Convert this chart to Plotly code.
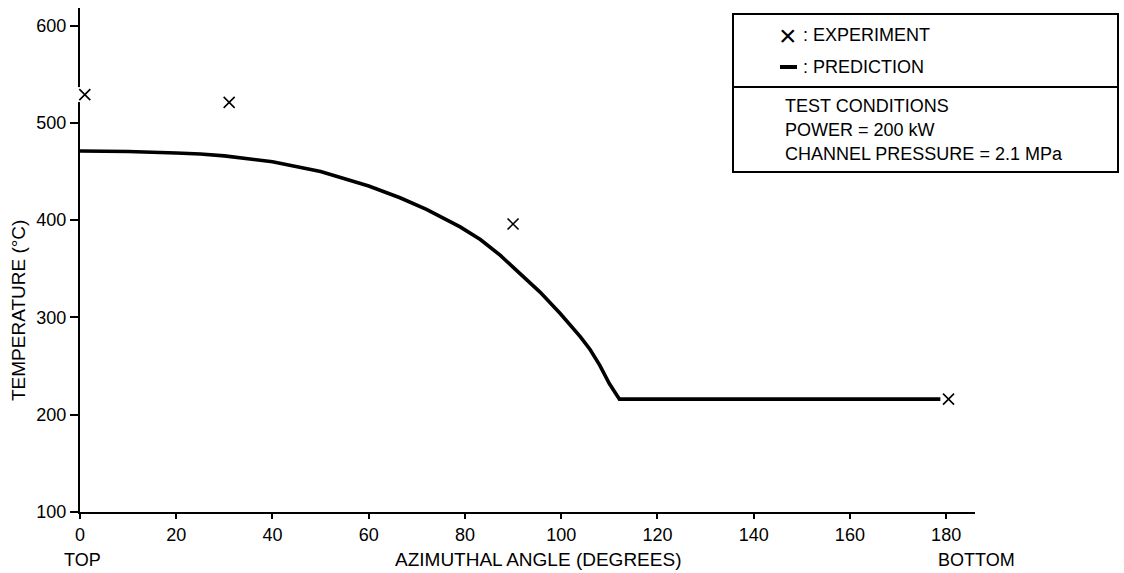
import plotly.graph_objects as go

# Measured wall temperatures around the channel (azimuth in degrees, 0 = top)
exp_angle = [1, 31, 90, 180.5]
exp_temp = [529, 521, 396, 216]

# Predicted temperature profile
pred_angle = [0, 10, 20, 25, 30, 40, 50, 60, 66.5, 72, 79, 83.2, 87.3, 91.5, 95.6,
              99.8, 104, 106, 108, 110, 112.1, 140, 178.8]
pred_temp = [471, 470.5, 469, 468, 466, 460, 450, 435, 423, 411, 393, 380, 364, 345, 326,
             304, 280, 267, 251, 232, 216, 216, 216]

x_ticks = [0, 20, 40, 60, 80, 100, 120, 140, 160, 180]
y_ticks = [100, 200, 300, 400, 500, 600]

FONT = "Liberation Sans, Arial, sans-serif"

# plot-area geometry in pixels
L, R, T, B = 80, 975, 8, 512
W, H = R - L, B - T


def px(xp):
    return (xp - L) / W


def py(yp):
    return (B - yp) / H


fig = go.Figure()

fig.add_trace(go.Scatter(
    x=pred_angle, y=pred_temp, mode="lines",
    line=dict(color="black", width=3.6),
    cliponaxis=False, showlegend=False, hoverinfo="skip"))

# white pad under each cross so the axis line breaks around it
fig.add_trace(go.Scatter(
    x=exp_angle, y=exp_temp, mode="markers",
    marker=dict(symbol="square", size=15, color="white", line=dict(width=0)),
    cliponaxis=False, showlegend=False, hoverinfo="skip"))

fig.add_trace(go.Scatter(
    x=exp_angle, y=exp_temp, mode="markers",
    marker=dict(symbol="x-thin", size=11, color="black",
                line=dict(color="black", width=1.6)),
    cliponaxis=False, showlegend=False))

fig.update_xaxes(
    range=[0, 186], tickvals=x_ticks, ticktext=[str(v) for v in x_ticks],
    showline=True, linecolor="black", linewidth=2,
    ticks="outside", ticklen=5, tickwidth=1.5, tickcolor="black",
    showgrid=False, zeroline=False, layer="below traces",
    tickfont=dict(family=FONT, size=18, color="black"))

fig.update_yaxes(
    range=[100, 618], tickvals=y_ticks, ticktext=[str(v) for v in y_ticks],
    showline=True, linecolor="black", linewidth=2,
    ticks="outside", ticklen=8, tickwidth=1.5, tickcolor="black",
    showgrid=False, zeroline=False, layer="below traces",
    tickfont=dict(family=FONT, size=18, color="black"))

annotations = [
    dict(text="TOP", x=px(82), y=py(560), font_size=18),
    dict(text="AZIMUTHAL ANGLE (DEGREES)", x=px(538), y=py(559), font_size=19),
    dict(text="BOTTOM", x=px(976), y=py(560), font_size=18),
    dict(text="TEMPERATURE (°C)", x=px(18), y=py(311), font_size=19, textangle=-90),
    dict(text="×", x=px(788), y=py(35), font_size=30),
    dict(text=": EXPERIMENT", x=px(801), y=py(35), xanchor="left", font_size=18),
    dict(text=": PREDICTION", x=px(801), y=py(67), xanchor="left", font_size=18),
    dict(text="TEST CONDITIONS", x=px(783), y=py(106), xanchor="left", font_size=18),
    dict(text="POWER = 200 kW", x=px(783), y=py(130), xanchor="left", font_size=18),
    dict(text="CHANNEL PRESSURE = 2.1 MPa", x=px(783), y=py(154), xanchor="left", font_size=18),
]
for a in annotations:
    a.setdefault("xanchor", "center")
    fig.add_annotation(
        xref="paper", yref="paper", showarrow=False, yanchor="middle",
        font=dict(family=FONT, color="black", size=a.pop("font_size")), **a)

# legend / test-conditions box
fig.add_shape(type="rect", xref="paper", yref="paper",
              x0=px(733), x1=px(1118), y0=py(172), y1=py(14),
              line=dict(color="black", width=2))
fig.add_shape(type="line", xref="paper", yref="paper",
              x0=px(733), x1=px(1118), y0=py(87), y1=py(87),
              line=dict(color="black", width=2))
fig.add_shape(type="line", xref="paper", yref="paper",
              x0=px(780), x1=px(797), y0=py(67), y1=py(67),
              line=dict(color="black", width=4))

fig.update_layout(
    width=1124, height=573,
    margin=dict(l=L, r=1124 - R, t=T, b=573 - B),
    paper_bgcolor="white", plot_bgcolor="white",
    font=dict(family=FONT, color="black"),
    showlegend=False)

fig.write_html("out.html")
